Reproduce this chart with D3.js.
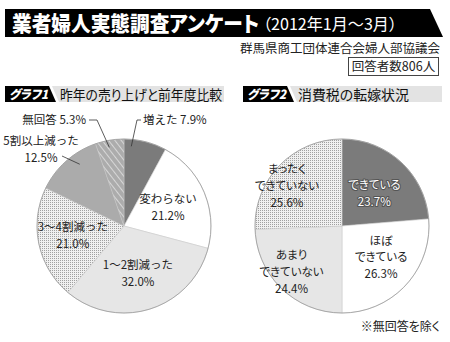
<!DOCTYPE html>
<html>
<head>
<meta charset="utf-8">
<script src="https://cdn.jsdelivr.net/npm/d3@7"></script>
<style>
  body { margin: 0; background: #fff; }
  svg { display: block; font-family: "Noto Sans CJK JP", "Noto Sans", sans-serif; }
  text { font-feature-settings: "palt"; }
  text.full { font-feature-settings: normal; }
</style>
</head>
<body>
<svg id="chart" width="450" height="342"></svg>
<script>
// データ
const titleMain = "業者婦人実態調査アンケート";
const titleSub = "（2012年1月～3月）";
const source = "群馬県商工団体連合会婦人部協議会";
const respondents = "回答者数806人";
const note = "※無回答を除く";

const pie1Tag = "グラフ1";
const pie1Title = "昨年の売り上げと前年度比較";
const pie1Labels = [["増えた"], ["変わらない"], ["1～2割減った"], ["3～4割減った"], ["5割以上減った"], ["無回答"]];
const pie1Values = [7.9, 21.2, 32.0, 21.0, 12.5, 5.3];

const pie2Tag = "グラフ2";
const pie2Title = "消費税の転嫁状況";
const pie2Labels = [["できている"], ["ほぼ", "できている"], ["あまり", "できていない"], ["まったく", "できていない"]];
const pie2Values = [23.7, 26.3, 24.4, 25.6];

const pct = v => d3.format(".1f")(v) + "%";

const svg = d3.select("#chart");

// 塗りパターン
const defs = svg.append("defs");
const dots = defs.append("pattern").attr("id", "dots")
    .attr("width", 2).attr("height", 2).attr("patternUnits", "userSpaceOnUse");
dots.append("rect").attr("width", 2).attr("height", 2).attr("fill", "#f0f0f0");
dots.append("rect").attr("width", 1).attr("height", 1).attr("fill", "#a0a0a0");

const hatch = defs.append("pattern").attr("id", "hatch")
    .attr("width", 5).attr("height", 5).attr("patternUnits", "userSpaceOnUse")
    .attr("patternTransform", "rotate(-38)");
hatch.append("rect").attr("width", 5).attr("height", 5).attr("fill", "#acacac");
hatch.append("line").attr("x1", 0).attr("y1", 0).attr("x2", 0).attr("y2", 5)
    .attr("stroke", "#f4f4f4").attr("stroke-width", 1.2);

const fills1 = ["#7b7b7b", "#ffffff", "#e6e6e6", "url(#dots)", "#ababab", "url(#hatch)"];
const fills2 = ["#7b7b7b", "#ffffff", "#e6e6e6", "url(#dots)"];

// タイトル
svg.append("path")
    .attr("d", "M5,9 L430,9 L443,37 L5,37 Z")
    .attr("fill", "#000");
const title = svg.append("text").attr("x", 12).attr("y", 31).attr("fill", "#fff");
title.append("tspan")
    .attr("font-size", 21).attr("font-weight", 900)
    .attr("textLength", 247).attr("lengthAdjust", "spacingAndGlyphs")
    .text(titleMain);
title.append("tspan").attr("x", 263).attr("dy", -1)
    .attr("font-size", 16)
    .attr("textLength", 134).attr("lengthAdjust", "spacingAndGlyphs")
    .text(titleSub);

svg.append("text").attr("x", 440).attr("y", 53).attr("text-anchor", "end")
    .attr("font-size", 12.5).attr("fill", "#222").text(source);
svg.append("rect").attr("x", 348.5).attr("y", 57.5).attr("width", 90).attr("height", 18)
    .attr("fill", "#fff").attr("stroke", "#444");
svg.append("text").attr("x", 393.5).attr("y", 71).attr("text-anchor", "middle")
    .attr("font-size", 12.5).attr("fill", "#222").text(respondents);

// 見出し
function header(x0, x1, tag, title, tw) {
    svg.append("path")
        .attr("d", `M${x0},86 L${x0 + 44},86 L${x0 + 51},102 L${x0},102 Z`).attr("fill", "#000");
    svg.append("path")
        .attr("d", `M${x0 + 47},86 L${x1},86 L${x1},102 L${x0 + 54},102 Z`).attr("fill", "#e3e3e3");
    svg.append("text").attr("x", x0 + 4).attr("y", 99)
        .attr("font-size", 12.5).attr("font-weight", 900).attr("font-style", "italic")
        .attr("textLength", 39).attr("lengthAdjust", "spacingAndGlyphs")
        .attr("fill", "#fff").text(tag);
    svg.append("text").attr("x", x0 + 55).attr("y", 99.5)
        .attr("font-size", 13.5).attr("fill", "#111")
        .attr("textLength", tw).attr("lengthAdjust", "spacingAndGlyphs")
        .text(title);
}
header(5, 224, pie1Tag, pie1Title, 162);
header(243, 442, pie2Tag, pie2Title, 111);

// 円グラフ
const r = 87;
const pie = d3.pie().sort(null).value(d => d);
const arc = d3.arc().innerRadius(0).outerRadius(r);
const rad = a => a * Math.PI / 180;
const polar = (cx, cy, ang, rr) => [cx + rr * Math.sin(rad(ang)), cy - rr * Math.cos(rad(ang))];

function drawPie(cx, cy, values, fills) {
    const g = svg.append("g").attr("transform", `translate(${cx},${cy})`);
    g.selectAll("path").data(pie(values)).join("path")
        .attr("d", arc).attr("fill", (d, i) => fills[i])
        .attr("stroke", "#c4c4c4").attr("stroke-width", 0.5);
    g.append("circle").attr("r", r).attr("fill", "none")
        .attr("stroke", "#9a9a9a").attr("stroke-width", 0.8);
    return pie(values);
}

// 複数行ラベル (行ごとに別のtext要素)
function block(x, y, lines, opts = {}) {
    const lh = 16.8;
    const y0 = y - (lines.length - 1) * lh / 2;
    lines.forEach((s, i) => {
        const tx = svg.append("text").attr("text-anchor", opts.anchor || "middle")
            .attr("class", opts.full ? "full" : null)
            .attr("font-size", 11.5).attr("fill", opts.fill || "#222")
            .attr("x", x).attr("y", y0 + i * lh).attr("dy", "0.36em").text(s);
        if (opts.halo) {
            tx.attr("stroke", opts.halo).attr("stroke-width", 2.2)
              .attr("paint-order", "stroke").attr("stroke-linejoin", "round");
        }
    });
}

// グラフ1
const c1 = [124, 226];
const arcs1 = drawPie(c1[0], c1[1], pie1Values, fills1);
const mid = d => (d.startAngle + d.endAngle) / 2 * 180 / Math.PI;

// 内側ラベル (半径, 角度補正)
const inner1 = { 1: [48, 0], 2: [49, 1], 3: [52, 2] };
Object.entries(inner1).forEach(([i, [rr, da]]) => {
    const p = polar(c1[0], c1[1], mid(arcs1[i]) + da, rr);
    block(p[0], p[1], [...pie1Labels[i], pct(pie1Values[i])], { full: true });
});

// 外側ラベルと引き出し線
const leader = d3.line();
const line1 = (pts) => svg.append("path").attr("d", leader(pts))
    .attr("fill", "none").attr("stroke", "#333").attr("stroke-width", 0.8);

block(143, 120, [pie1Labels[0][0] + " " + pct(pie1Values[0])], { anchor: "start", full: true });
line1([[141, 120], [137, 120], polar(c1[0], c1[1], mid(arcs1[0]) - 9, 80)]);

block(86, 120, [pie1Labels[5][0] + " " + pct(pie1Values[5])], { anchor: "end", full: true });
line1([[89, 120], [97, 120], polar(c1[0], c1[1], mid(arcs1[5]) - 1, 80)]);

block(41, 149, [...pie1Labels[4], pct(pie1Values[4])], { full: true });
line1([[62, 156], polar(c1[0], c1[1], mid(arcs1[4]) + 6, 76)]);

// グラフ2
const c2 = [342, 226];
const arcs2 = drawPie(c2[0], c2[1], pie2Values, fills2);
const inner2 = [[46, 2], [50, -4], [68, 4], [68, -8]];
inner2.forEach(([rr, da], i) => {
    const p = polar(c2[0], c2[1], mid(arcs2[i]) + da, rr);
    const opts = i === 0 ? { fill: "#fff", halo: "#555" } : {};
    block(p[0], p[1], [...pie2Labels[i], pct(pie2Values[i])], opts);
});

svg.append("text").attr("x", 440).attr("y", 331).attr("text-anchor", "end")
    .attr("font-size", 12).attr("fill", "#222").text(note);
</script>
</body>
</html>
